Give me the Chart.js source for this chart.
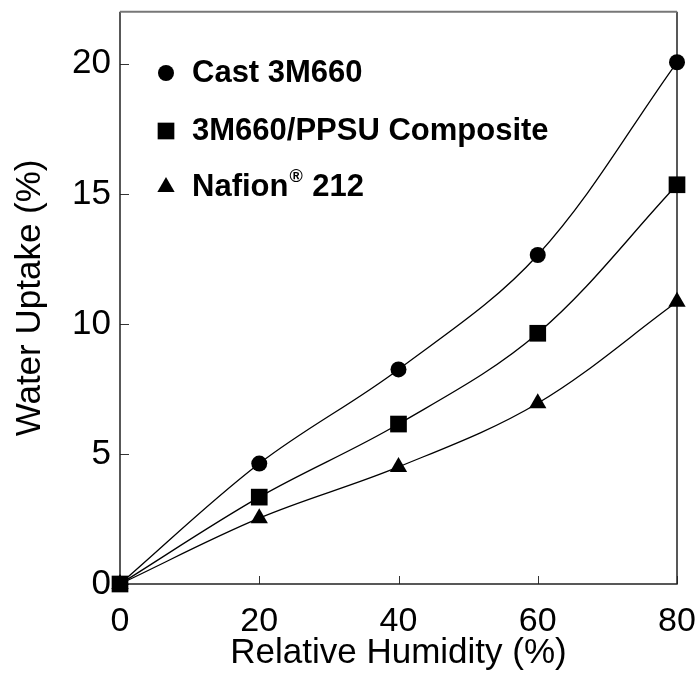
<!DOCTYPE html>
<html>
<head>
<meta charset="utf-8">
<script src="https://cdn.jsdelivr.net/npm/chart.js@4.4.1/dist/chart.umd.min.js"></script>
<style>
  html, body { margin: 0; padding: 0; background: #fff; }
  #wrap { width: 698px; height: 674px; }
</style>
</head>
<body>
<div id="wrap"><canvas id="uptakeChart" width="698" height="674"></canvas></div>
<script>
// data
const humidity = [0, 20, 40, 60, 80];
const cast3M660 = [0, 4.63, 8.25, 12.65, 20.06];
const composite = [0, 3.34, 6.15, 9.64, 15.35];
const nafion212 = [0, 2.53, 4.5, 6.95, 10.85];
const seriesLabels = ["Cast 3M660", "3M660/PPSU Composite", "Nafion\u00AE 212"];
const seriesStyles = ["circle", "rect", "triangle"];
const xTicks = [0, 20, 40, 60, 80];
const yTicks = [0, 5, 10, 15, 20];

const FONT = "'Liberation Sans', Arial, sans-serif";

function toPoints(ys) {
  return humidity.map((x, i) => ({ x: x, y: ys[i] }));
}

function makeSet(i, ys, radius, order) {
  return {
    label: seriesLabels[i],
    data: toPoints(ys),
    borderColor: "#000",
    backgroundColor: "#000",
    borderWidth: 1.3,
    pointStyle: seriesStyles[i],
    pointRadius: radius,
    pointHoverRadius: radius,
    pointBorderWidth: 0,
    tension: 0.35,
    clip: false,
    order: order,
  };
}

// frame + inward tick marks
const framePlugin = {
  id: "frame",
  beforeDatasetsDraw(chart) {
    const { ctx, chartArea: a, scales } = chart;
    ctx.save();
    ctx.strokeStyle = "#333";
    ctx.lineWidth = 1;
    scales.x.ticks.forEach((t) => {
      const px = Math.round(scales.x.getPixelForValue(t.value)) + 0.5;
      ctx.beginPath();
      ctx.moveTo(px, a.bottom);
      ctx.lineTo(px, a.bottom - 8);
      ctx.stroke();
    });
    scales.y.ticks.forEach((t) => {
      const py = Math.round(scales.y.getPixelForValue(t.value)) + 0.5;
      ctx.beginPath();
      ctx.moveTo(a.left, py);
      ctx.lineTo(a.left + 9, py);
      ctx.stroke();
    });
    ctx.lineWidth = 1.5;
    ctx.strokeStyle = "#222";
    ctx.beginPath();
    ctx.moveTo(a.left, a.top);
    ctx.lineTo(a.left, a.bottom);
    ctx.lineTo(a.right, a.bottom);
    ctx.lineTo(a.right, a.top);
    ctx.stroke();
    ctx.strokeStyle = "#777";
    ctx.lineWidth = 2;
    ctx.beginPath();
    ctx.moveTo(a.left, a.top);
    ctx.lineTo(a.right, a.top);
    ctx.stroke();
    ctx.restore();
  },
};

// legend drawn inside the plot area, top left
const insideLegend = {
  id: "insideLegend",
  afterDraw(chart) {
    const { ctx } = chart;
    const rows = [73, 131, 187];
    ctx.save();
    chart.data.datasets.forEach((ds, i) => {
      const y = rows[i];
      ctx.fillStyle = "#000";
      Chart.helpers.drawPoint(ctx, { pointStyle: ds.pointStyle, radius: ds.pointRadius, borderWidth: 0 }, 166, y);
      ctx.font = "bold 31px " + FONT;
      ctx.textBaseline = "middle";
      ctx.textAlign = "left";
      const parts = ds.label.split("\u00AE");
      let x = 192;
      ctx.fillText(parts[0], x, y);
      if (parts.length > 1) {
        x += ctx.measureText(parts[0]).width;
        ctx.font = "bold 18px " + FONT;
        ctx.fillText("\u00AE", x + 1, y - 10);
        x += ctx.measureText("\u00AE").width + 2;
        ctx.font = "bold 31px " + FONT;
        ctx.fillText(parts[1], x, y);
      }
    });
    ctx.restore();
  },
};

new Chart(document.getElementById("uptakeChart"), {
  type: "line",
  data: {
    datasets: [
      makeSet(0, cast3M660, 8, 1),
      makeSet(1, composite, 11.8, 0),
      makeSet(2, nafion212, 10, 2),
    ],
  },
  options: {
    responsive: false,
    animation: false,
    layout: { padding: { left: 0, right: 21, top: 11, bottom: 0 } },
    plugins: {
      legend: { display: false },
      tooltip: { enabled: false },
    },
    scales: {
      x: {
        type: "linear",
        min: 0,
        max: 80,
        afterBuildTicks: (s) => { s.ticks = xTicks.map((v) => ({ value: v })); },
        afterFit: (s) => { s.height = 90; s.paddingLeft = 0; s.paddingRight = 0; },
        grid: { display: false, drawTicks: false },
        border: { display: false },
        ticks: { color: "#000", padding: 17, font: { family: FONT, size: 34 } },
        title: {
          display: true,
          text: "Relative Humidity (%)",
          color: "#000",
          padding: { top: 0, bottom: 0 },
          font: { family: FONT, size: 35 },
        },
      },
      y: {
        type: "linear",
        min: 0,
        max: 22,
        afterBuildTicks: (s) => { s.ticks = yTicks.map((v) => ({ value: v })); },
        afterFit: (s) => { s.width = 120; s.paddingTop = 0; s.paddingBottom = 0; },
        grid: { display: false, drawTicks: false },
        border: { display: false },
        ticks: { color: "#000", padding: 9, font: { family: FONT, size: 35 } },
        title: {
          display: true,
          text: "Water Uptake (%)",
          color: "#000",
          padding: { top: 9, bottom: 0 },
          font: { family: FONT, size: 35 },
        },
      },
    },
  },
  plugins: [framePlugin, insideLegend],
});
</script>
</body>
</html>
